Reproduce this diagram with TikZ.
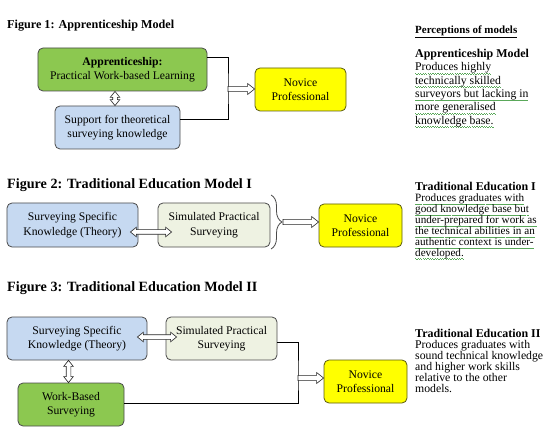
\documentclass[tikz,border=0pt]{standalone}
\usepackage{fontspec}
\setmainfont{Liberation Serif}
\usetikzlibrary{arrows.meta, positioning, calc, decorations.pathreplacing}
\definecolor{verdeCaja}{HTML}{8CC850}
\definecolor{azulCaja}{HTML}{C6D9F1}
\definecolor{palidoCaja}{HTML}{EEF2E2}
\definecolor{amarilloCaja}{HTML}{FFFF00}
\definecolor{bordeCaja}{HTML}{4A4A4A}
\definecolor{bordeAmarillo}{HTML}{5A5A10}
\definecolor{ondaVerde}{HTML}{5AA85A}
% green spell-check wave under a line of text
\newcommand{\squig}[1]{\setbox0=\hbox{#1}\rlap{\smash{\raisebox{-2.8bp}{\color{ondaVerde}%
  \hbox to \wd0{\xleaders\hbox to 2.4bp{\rule{1.2bp}{0.55bp}\rule[-0.6bp]{1.2bp}{0.55bp}}\hfill}}}}\box0}
% hollow block arrow, one head
\newcommand{\flechaHueca}[2]{%
  \coordinate (fhA) at #1; \coordinate (fhB) at #2;
  \coordinate (fhH) at ($(fhB)!7bp!(fhA)$);
  \draw[hollowShape] ($(fhA)!2.6bp!90:(fhB)$) -- ($(fhH)!2.6bp!90:(fhB)$)
    -- ($(fhH)!5.5bp!90:(fhB)$) -- (fhB) -- ($(fhH)!5.5bp!-90:(fhB)$)
    -- ($(fhH)!2.6bp!-90:(fhB)$) -- ($(fhA)!2.6bp!-90:(fhB)$) -- cycle;}
% hollow block arrow, two heads
\newcommand{\flechaDoble}[2]{%
  \coordinate (fhA) at #1; \coordinate (fhB) at #2;
  \coordinate (fhH) at ($(fhA)!6bp!(fhB)$);
  \coordinate (fhK) at ($(fhB)!6bp!(fhA)$);
  \draw[hollowShape] (fhA) -- ($(fhH)!4.8bp!90:(fhB)$) -- ($(fhH)!2.3bp!90:(fhB)$)
    -- ($(fhK)!2.3bp!90:(fhB)$) -- ($(fhK)!4.8bp!90:(fhB)$) -- (fhB)
    -- ($(fhK)!4.8bp!-90:(fhB)$) -- ($(fhK)!2.3bp!-90:(fhB)$)
    -- ($(fhH)!2.3bp!-90:(fhB)$) -- ($(fhH)!4.8bp!-90:(fhB)$) -- cycle;}
\tikzset{
  boxBase/.style={
    draw=bordeCaja, line width=0.8bp, rounded corners=5bp,
    minimum height=43bp, align=center, inner sep=2bp,
    font=\fontsize{11.7}{14.5}\selectfont, text=black
  },
  boxGreen/.style={boxBase, fill=verdeCaja},
  boxBlue/.style={boxBase, fill=azulCaja},
  boxPale/.style={boxBase, fill=palidoCaja},
  boxNovice/.style={boxBase, fill=amarilloCaja, draw=bordeAmarillo,
    font=\fontsize{11.7}{13.5}\selectfont},
  joinLine/.style={draw=black, line width=0.8bp},
  hollowShape/.style={draw=black!85, fill=white, line width=0.6bp, line join=miter},
  figTitle/.style={anchor=west, inner sep=0pt, font=\bfseries},
  noteText/.style={anchor=north west, inner sep=0pt, align=left},
  braceLine/.style={draw=bordeCaja, line width=0.8bp, decorate,
    decoration={brace, amplitude=11bp}},
}
\begin{document}
\begin{tikzpicture}[x=1bp, y=-1bp]
  \useasboundingbox (0,0) rectangle (546,437);
  % figure 1
  \node[figTitle, font=\fontsize{12.2}{14}\selectfont\bfseries] (titulo1) at (7,26)
    {Figure 1: Apprenticeship Model};
  \node[boxGreen, minimum width=169bp] (appr) at (122.5,69.5)
    {\textbf{Apprenticeship:}\\Practical Work-based Learning};
  \node[boxBlue, minimum width=125bp] (support) at (117.5,127.5)
    {Support for theoretical\\surveying knowledge};
  \node[boxNovice, minimum width=91bp] (novice1) at (300.5,89.5)
    {Novice\\Professional};
  \coordinate (junta1) at (228,89);
  \draw[joinLine] ([yshift=12.5bp]appr.east) -| (junta1)
    |- ([yshift=8.5bp]support.east);
  \flechaHueca{(junta1)}{(junta1 -| novice1.west)}
  \flechaDoble{([xshift=-2.5bp]support.north)}{([xshift=-2.5bp]support.north |- appr.south)}
  % figure 2
  \node[figTitle, font=\fontsize{14.2}{16}\selectfont\bfseries] (titulo2) at (7,185)
    {Figure 2: Traditional Education Model I};
  \node[boxBlue, minimum width=131bp, minimum height=44bp] (theory1) at (72.5,225)
    {Surveying Specific\\Knowledge (Theory)};
  \node[boxPale, minimum width=112bp, minimum height=44bp] (sim1) at (214,225)
    {Simulated Practical\\Surveying};
  \flechaDoble{([xshift=-8bp, yshift=-7bp]theory1.east)}{([xshift=14bp, yshift=-7bp]sim1.west)}
  \coordinate (llaveArriba) at (271,195);
  \coordinate (llaveAbajo) at (271,249);
  \coordinate (llavePunta) at (283,222);
  \draw[braceLine] (llaveArriba) -- (llaveAbajo);
  \node[boxNovice, minimum width=83bp] (novice2) at (360.5,225.5)
    {Novice\\Professional};
  \flechaHueca{(llavePunta)}{(llavePunta -| novice2.west)}
  % figure 3
  \node[figTitle, font=\fontsize{14.2}{16}\selectfont\bfseries] (titulo3) at (7,288)
    {Figure 3: Traditional Education Model II};
  \node[boxBlue, minimum width=140bp] (theory2) at (77,338.5)
    {Surveying Specific\\Knowledge (Theory)};
  \node[boxPale, minimum width=111bp] (sim2) at (221.5,338.5)
    {Simulated Practical\\Surveying};
  \node[boxGreen, minimum width=106bp] (work) at (71,404.5)
    {Work-Based\\Surveying};
  \node[boxNovice, minimum width=83bp] (novice3) at (365.5,381.5)
    {Novice\\Professional};
  \coordinate (junta3) at (298,378);
  \flechaDoble{([xshift=-10bp, yshift=1.5bp]theory2.east)}{([xshift=11bp, yshift=1.5bp]sim2.west)}
  \flechaDoble{([xshift=-2.5bp]work.north)}{([xshift=-2.5bp]work.north |- theory2.south)}
  \draw[joinLine] ([yshift=-3.5bp]sim2.east) -| (junta3) |- ([yshift=1.5bp]work.east);
  \flechaHueca{(junta3)}{(junta3 -| novice3.west)}
  % perceptions column
  \node[anchor=west, inner sep=0pt, font=\fontsize{11}{12}\selectfont\bfseries]
    (percepciones) at (415,32) {\underline{Perceptions of models}};
  \node[noteText, font=\fontsize{11.8}{13.4}\selectfont] (nota1) at (415,49)
    {{\fontsize{12}{12}\selectfont\bfseries Apprenticeship Model}\\
     \squig{Produces highly}\\ \squig{technically skilled}\\
     \squig{surveyors but lacking in}\\ \squig{more generalised}\\
     \squig{knowledge base.}};
  \node[noteText, font=\fontsize{11.2}{11}\selectfont] (nota2) at (415,182)
    {{\fontsize{12}{12}\selectfont\bfseries Traditional Education I}\\
     \squig{Produces graduates with}\\ \squig{good knowledge base but}\\
     \squig{under-prepared for work as}\\ \squig{the technical abilities  in an}\\
     \squig{authentic context is under-}\\ \squig{developed.}};
  \node[noteText, font=\fontsize{11.8}{11}\selectfont] (nota3) at (415,329)
    {{\fontsize{12}{12}\selectfont\bfseries Traditional Education II}\\
     Produces graduates with\\ sound technical knowledge\\
     and higher work skills\\ relative to the other\\ models.};
\end{tikzpicture}
\end{document}
